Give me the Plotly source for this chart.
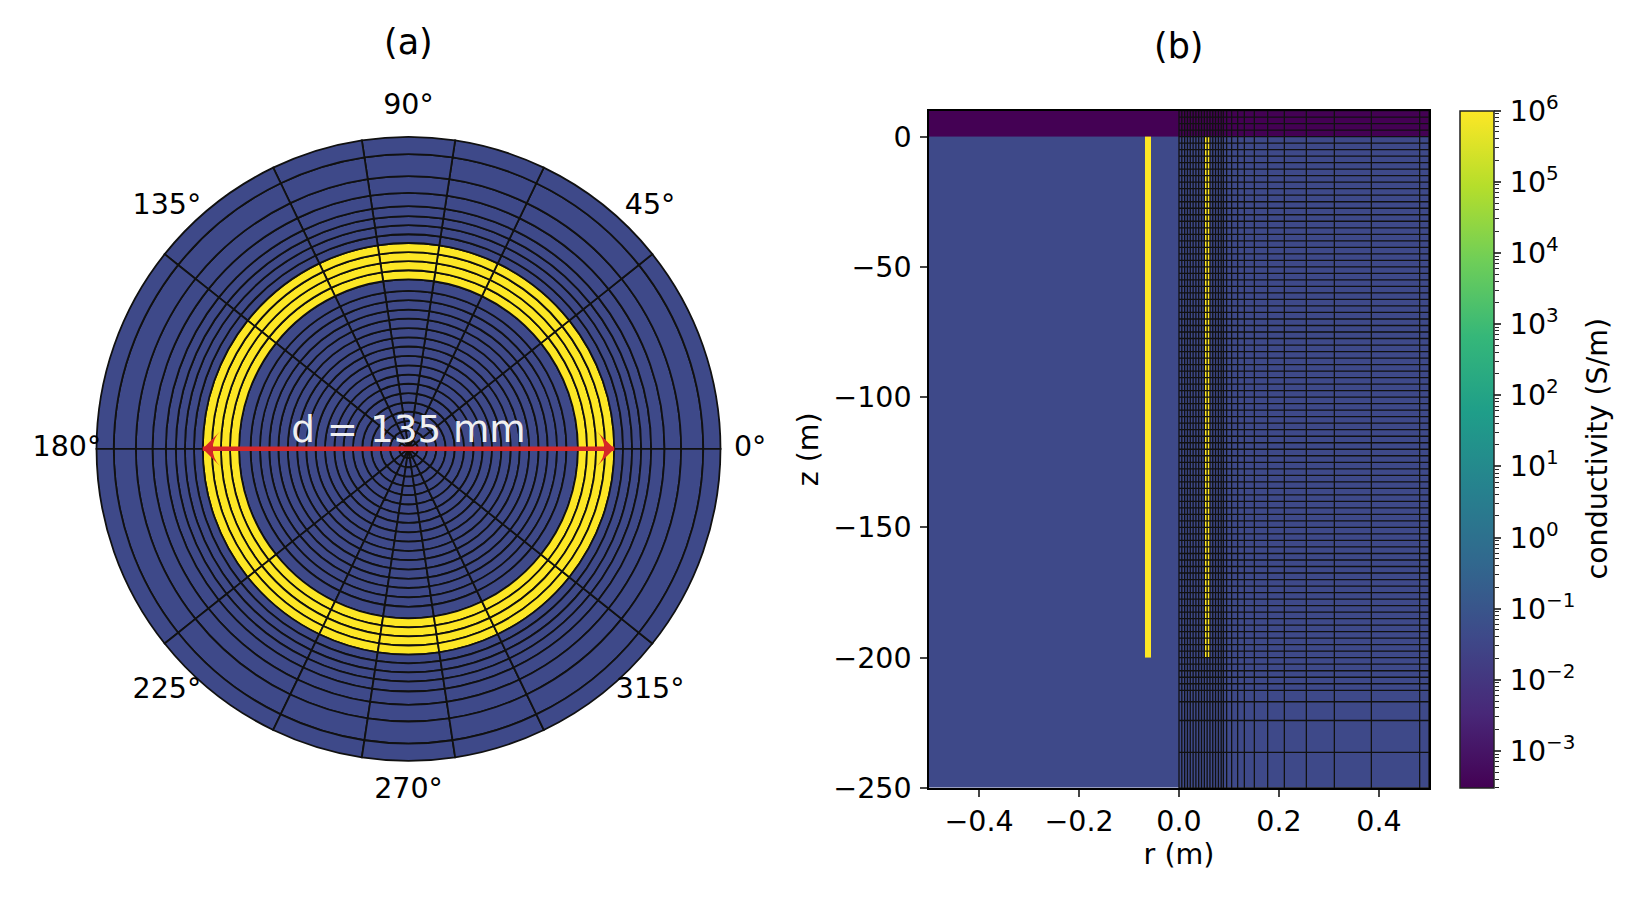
import numpy as np
import plotly.graph_objects as go

# conductivities (S/m)
sigma_air = 3e-4
sigma_ground = 0.04
sigma_casing = 1e6

# (a) depth slice: ring edges (m) and wedge edges (deg)
ring_edges = [0.0, 0.0031, 0.0061, 0.0092, 0.0123, 0.0153, 0.0184, 0.0215, 0.0245, 0.0276,
              0.0307, 0.0338, 0.0368, 0.0399, 0.0430, 0.0460, 0.0491, 0.0522, 0.0560, 0.0590,
              0.0620, 0.0650, 0.0680, 0.0709, 0.0739, 0.0769, 0.0802, 0.0846, 0.0901, 0.0974,
              0.1031]
wedge_edges = [0, 38.6, 64.3, 81.4, 98.6, 115.7, 141.4, 180, 218.6, 244.3, 261.4, 278.6, 295.7, 321.4, 360]
casing_inner_a = 0.0560
casing_outer_a = 0.0680
angle_ticks = [0, 45, 90, 135, 180, 225, 270, 315]
angle_labels = ["0°", "45°", "90°", "135°", "180°", "225°", "270°", "315°"]
angle_label_r = 0.1129
polar_rmax = 0.12  # room for the angle labels outside the disc

# (b) r-z section: cell edges (m)
r_edges = [0.0, 0.0056, 0.0113, 0.0169, 0.0225, 0.0282, 0.0338, 0.0394, 0.0450, 0.0507,
           0.0563, 0.0619, 0.0675, 0.0731, 0.0788, 0.0844, 0.0887, 0.0953, 0.1053, 0.1173,
           0.1307, 0.1507, 0.1773, 0.2107, 0.2547, 0.3107, 0.3847, 0.4813, 0.5]
z_edges = [10, 7.5, 5, 2.5, 0, -2.5, -5, -7.5, -10, -12.5, -15, -17.5, -20, -22.5, -25,
           -27.5, -30, -32.5, -35, -37.5, -40, -42.5, -45, -47.5, -50, -52.5, -55, -57.5, -60,
           -62.5, -65, -67.5, -70, -72.5, -75, -77.5, -80, -82.5, -85, -87.5, -90, -92.5, -95,
           -97.5, -100, -102.5, -105, -107.5, -110, -112.5, -115, -117.5, -120, -122.5, -125,
           -127.5, -130, -132.5, -135, -137.5, -140, -142.5, -145, -147.5, -150, -152.5, -155,
           -157.5, -160, -162.5, -165, -167.5, -170, -172.5, -175, -177.5, -180, -182.5, -185,
           -187.5, -190, -192.5, -195, -197.5, -200, -202.5, -205, -207.5, -210, -212.5,
           -216.9, -224.1, -236.3, -250]
left_edges = [-0.5, -0.068, -0.056]
casing_left = (-0.068, -0.056)
casing_right = (0.0507, 0.0619)
casing_bottom = -200
r_ticks = [-0.4, -0.2, 0.0, 0.2, 0.4]
z_ticks = [0, -50, -100, -150, -200, -250]

# colour bar
cmin, cmax = np.log10(3e-4), 6
cbar_ticks = [-3, -2, -1, 0, 1, 2, 3, 4, 5, 6]
cbar_labels = ["\u200a10<sup>\u22123</sup>", "\u200a10<sup>\u22122</sup>", "\u200a10<sup>\u22121</sup>",
               "\u200a10<sup>0</sup>", "\u200a10<sup>1</sup>", "\u200a10<sup>2</sup>", "\u200a10<sup>3</sup>",
               "\u200a10<sup>4</sup>", "\u200a10<sup>5</sup>", "\u200a10<sup>6</sup>"]
minor_decades = [-4, -3, -2, -1, 0, 1, 2, 3, 4, 5]

FONT = "DejaVu Sans"
W, H = 1650, 900
AX_TOP, AX_BOTTOM = 104.5, 795
DISC_X, DISC_Y = 400.5, 449.3
DISC_HALF = 318 * polar_rmax / ring_edges[-1]


def px_x(a, b):
    return [a / W, b / W]


def px_y(top, bottom):
    return [1 - bottom / H, 1 - top / H]


fig = go.Figure()

# (a) one bar per mesh cell
bar_r, bar_base, bar_theta, bar_width, bar_color = [], [], [], [], []
for i in range(len(ring_edges) - 1):
    in_casing = ring_edges[i] >= casing_inner_a and ring_edges[i + 1] <= casing_outer_a
    for j in range(len(wedge_edges) - 1):
        bar_r.append(ring_edges[i + 1] - ring_edges[i])
        bar_base.append(ring_edges[i])
        bar_theta.append((wedge_edges[j] + wedge_edges[j + 1]) / 2)
        bar_width.append(wedge_edges[j + 1] - wedge_edges[j])
        bar_color.append(np.log10(sigma_casing if in_casing else sigma_ground))

fig.add_trace(go.Barpolar(
    r=bar_r, base=bar_base, theta=bar_theta, width=bar_width,
    marker=dict(color=bar_color, coloraxis="coloraxis", line=dict(color="#111111", width=1.8)),
    showlegend=False, subplot="polar",
))

# diameter arrow
fig.add_trace(go.Scatterpolar(
    r=[casing_outer_a, casing_outer_a], theta=[180, 0], mode="lines+markers",
    line=dict(color="#d62728", width=4.5),
    marker=dict(symbol="arrow-wide", angle=[-90, 90], size=24, color="#d62728", line=dict(width=0)),
    showlegend=False, subplot="polar",
))
fig.add_trace(go.Scatterpolar(
    r=[0.0053], theta=[90], mode="text", text=["d = 135 mm"], textposition="middle center",
    textfont=dict(family=FONT, size=37.3, color="#f0f0f0"),
    showlegend=False, subplot="polar",
))
# angle labels at a fixed radius outside the disc
fig.add_trace(go.Scatterpolar(
    r=[angle_label_r] * len(angle_ticks), theta=angle_ticks, mode="text", text=angle_labels,
    textposition="middle center", cliponaxis=False,
    textfont=dict(family=FONT, size=28.5, color="black"),
    showlegend=False, subplot="polar",
))

# (b) conductivity section, left half has no mesh lines
x_edges = left_edges + r_edges
z_cells = np.full((len(z_edges) - 1, len(x_edges) - 1), np.log10(sigma_ground))
for k in range(len(z_edges) - 1):
    zc = (z_edges[k] + z_edges[k + 1]) / 2
    for m in range(len(x_edges) - 1):
        xc = (x_edges[m] + x_edges[m + 1]) / 2
        if zc > 0:
            z_cells[k, m] = np.log10(sigma_air)
        elif zc > casing_bottom and (casing_left[0] < xc < casing_left[1] or casing_right[0] < xc < casing_right[1]):
            z_cells[k, m] = np.log10(sigma_casing)

fig.add_trace(go.Heatmap(
    x=x_edges, y=z_edges, z=z_cells, coloraxis="coloraxis", hoverinfo="skip",
    xaxis="x", yaxis="y",
))

# mesh lines
line_x, line_y = [], []
for r in r_edges:
    line_x += [r, r, None]
    line_y += [z_edges[0], z_edges[-1], None]
for z in z_edges:
    line_x += [r_edges[0], r_edges[-1], None]
    line_y += [z, z, None]
fig.add_trace(go.Scatter(
    x=line_x, y=line_y, mode="lines", line=dict(color="#111111", width=1.3),
    showlegend=False, hoverinfo="skip", xaxis="x", yaxis="y",
))

# minor log ticks for the colour bar sit on an axis of their own
minor_vals = [10.0 ** d * m for d in minor_decades for m in [2, 3, 4, 5, 6, 7, 8, 9]]
fig.add_trace(go.Scatter(
    x=[0], y=[1], mode="markers", marker=dict(opacity=0), showlegend=False,
    hoverinfo="skip", xaxis="x2", yaxis="y2",
))

tick_font = dict(family=FONT, size=28.5, color="black")
title_font = dict(family=FONT, size=35, color="black")
fig.update_layout(
    width=W, height=H, margin=dict(l=0, r=0, t=0, b=0),
    paper_bgcolor="white", plot_bgcolor="white",
    font=tick_font,
    polar=dict(
        domain=dict(x=px_x(DISC_X - DISC_HALF, DISC_X + DISC_HALF),
                    y=px_y(DISC_Y - DISC_HALF, DISC_Y + DISC_HALF)),
        bgcolor="white",
        radialaxis=dict(visible=False, range=[0, polar_rmax]),
        angularaxis=dict(
            direction="counterclockwise", rotation=0, showticklabels=False,
            showgrid=False, ticks="", showline=False,
        ),
        barmode="overlay",
    ),
    xaxis=dict(
        domain=px_x(921, 1421), range=[-0.5, 0.5], tickmode="array", tickvals=r_ticks,
        ticktext=["\u22120.4", "\u22120.2", "0.0", "0.2", "0.4"],
        ticks="outside", ticklen=7, tickwidth=1.5, showgrid=False, zeroline=False,
        showline=True, mirror=True, linecolor="black", linewidth=1.5,
        title=dict(text="r (m)", font=tick_font, standoff=3), anchor="y",
    ),
    yaxis=dict(
        domain=px_y(AX_TOP, AX_BOTTOM), range=[-250, 10], tickmode="array", tickvals=z_ticks,
        ticks="outside", ticklen=7, tickwidth=1.5, showgrid=False, zeroline=False,
        showline=True, mirror=True, linecolor="black", linewidth=1.5, ticklabelstandoff=3,
        title=dict(text="z (m)", font=tick_font, standoff=6), anchor="x",
    ),
    xaxis2=dict(domain=px_x(1452, 1486), range=[0, 1], visible=False, anchor="y2"),
    yaxis2=dict(
        domain=px_y(AX_TOP, AX_BOTTOM), type="log", range=[cmin, cmax], side="right", anchor="x2",
        showgrid=False, zeroline=False, showline=False, showticklabels=False, ticks="",
        tickmode="array", tickvals=[],
        minor=dict(ticks="outside", ticklen=4, tickwidth=1, tickcolor="#222222",
                   tickmode="array", tickvals=minor_vals, showgrid=False),
    ),
    coloraxis=dict(
        cmin=cmin, cmax=cmax, colorscale="Viridis",
        colorbar=dict(
            x=1452 / W, xanchor="left", xpad=0, y=1 - AX_BOTTOM / H, yanchor="bottom", ypad=0,
            thickness=34, thicknessmode="pixels", len=(AX_BOTTOM - AX_TOP) / H, lenmode="fraction",
            tickmode="array", tickvals=cbar_ticks, ticktext=cbar_labels,
            ticks="outside", ticklen=7, tickwidth=1.5, tickfont=tick_font,
            outlinecolor="#222222", outlinewidth=1.5,
        ),
    ),
    annotations=[
        dict(text="(a)", xref="paper", yref="paper", x=400.5 / W, y=1 - 35 / H, showarrow=False,
             xanchor="center", yanchor="middle", font=title_font),
        dict(text="(b)", xref="paper", yref="paper", x=1171 / W, y=1 - 39 / H, showarrow=False,
             xanchor="center", yanchor="middle", font=title_font),
        dict(text="conductivity (S/m)", xref="paper", yref="paper", x=1590 / W, y=1 - 449 / H,
             showarrow=False, textangle=-90, xanchor="center", yanchor="middle", font=tick_font),
    ],
)

fig.write_html("out.html")
